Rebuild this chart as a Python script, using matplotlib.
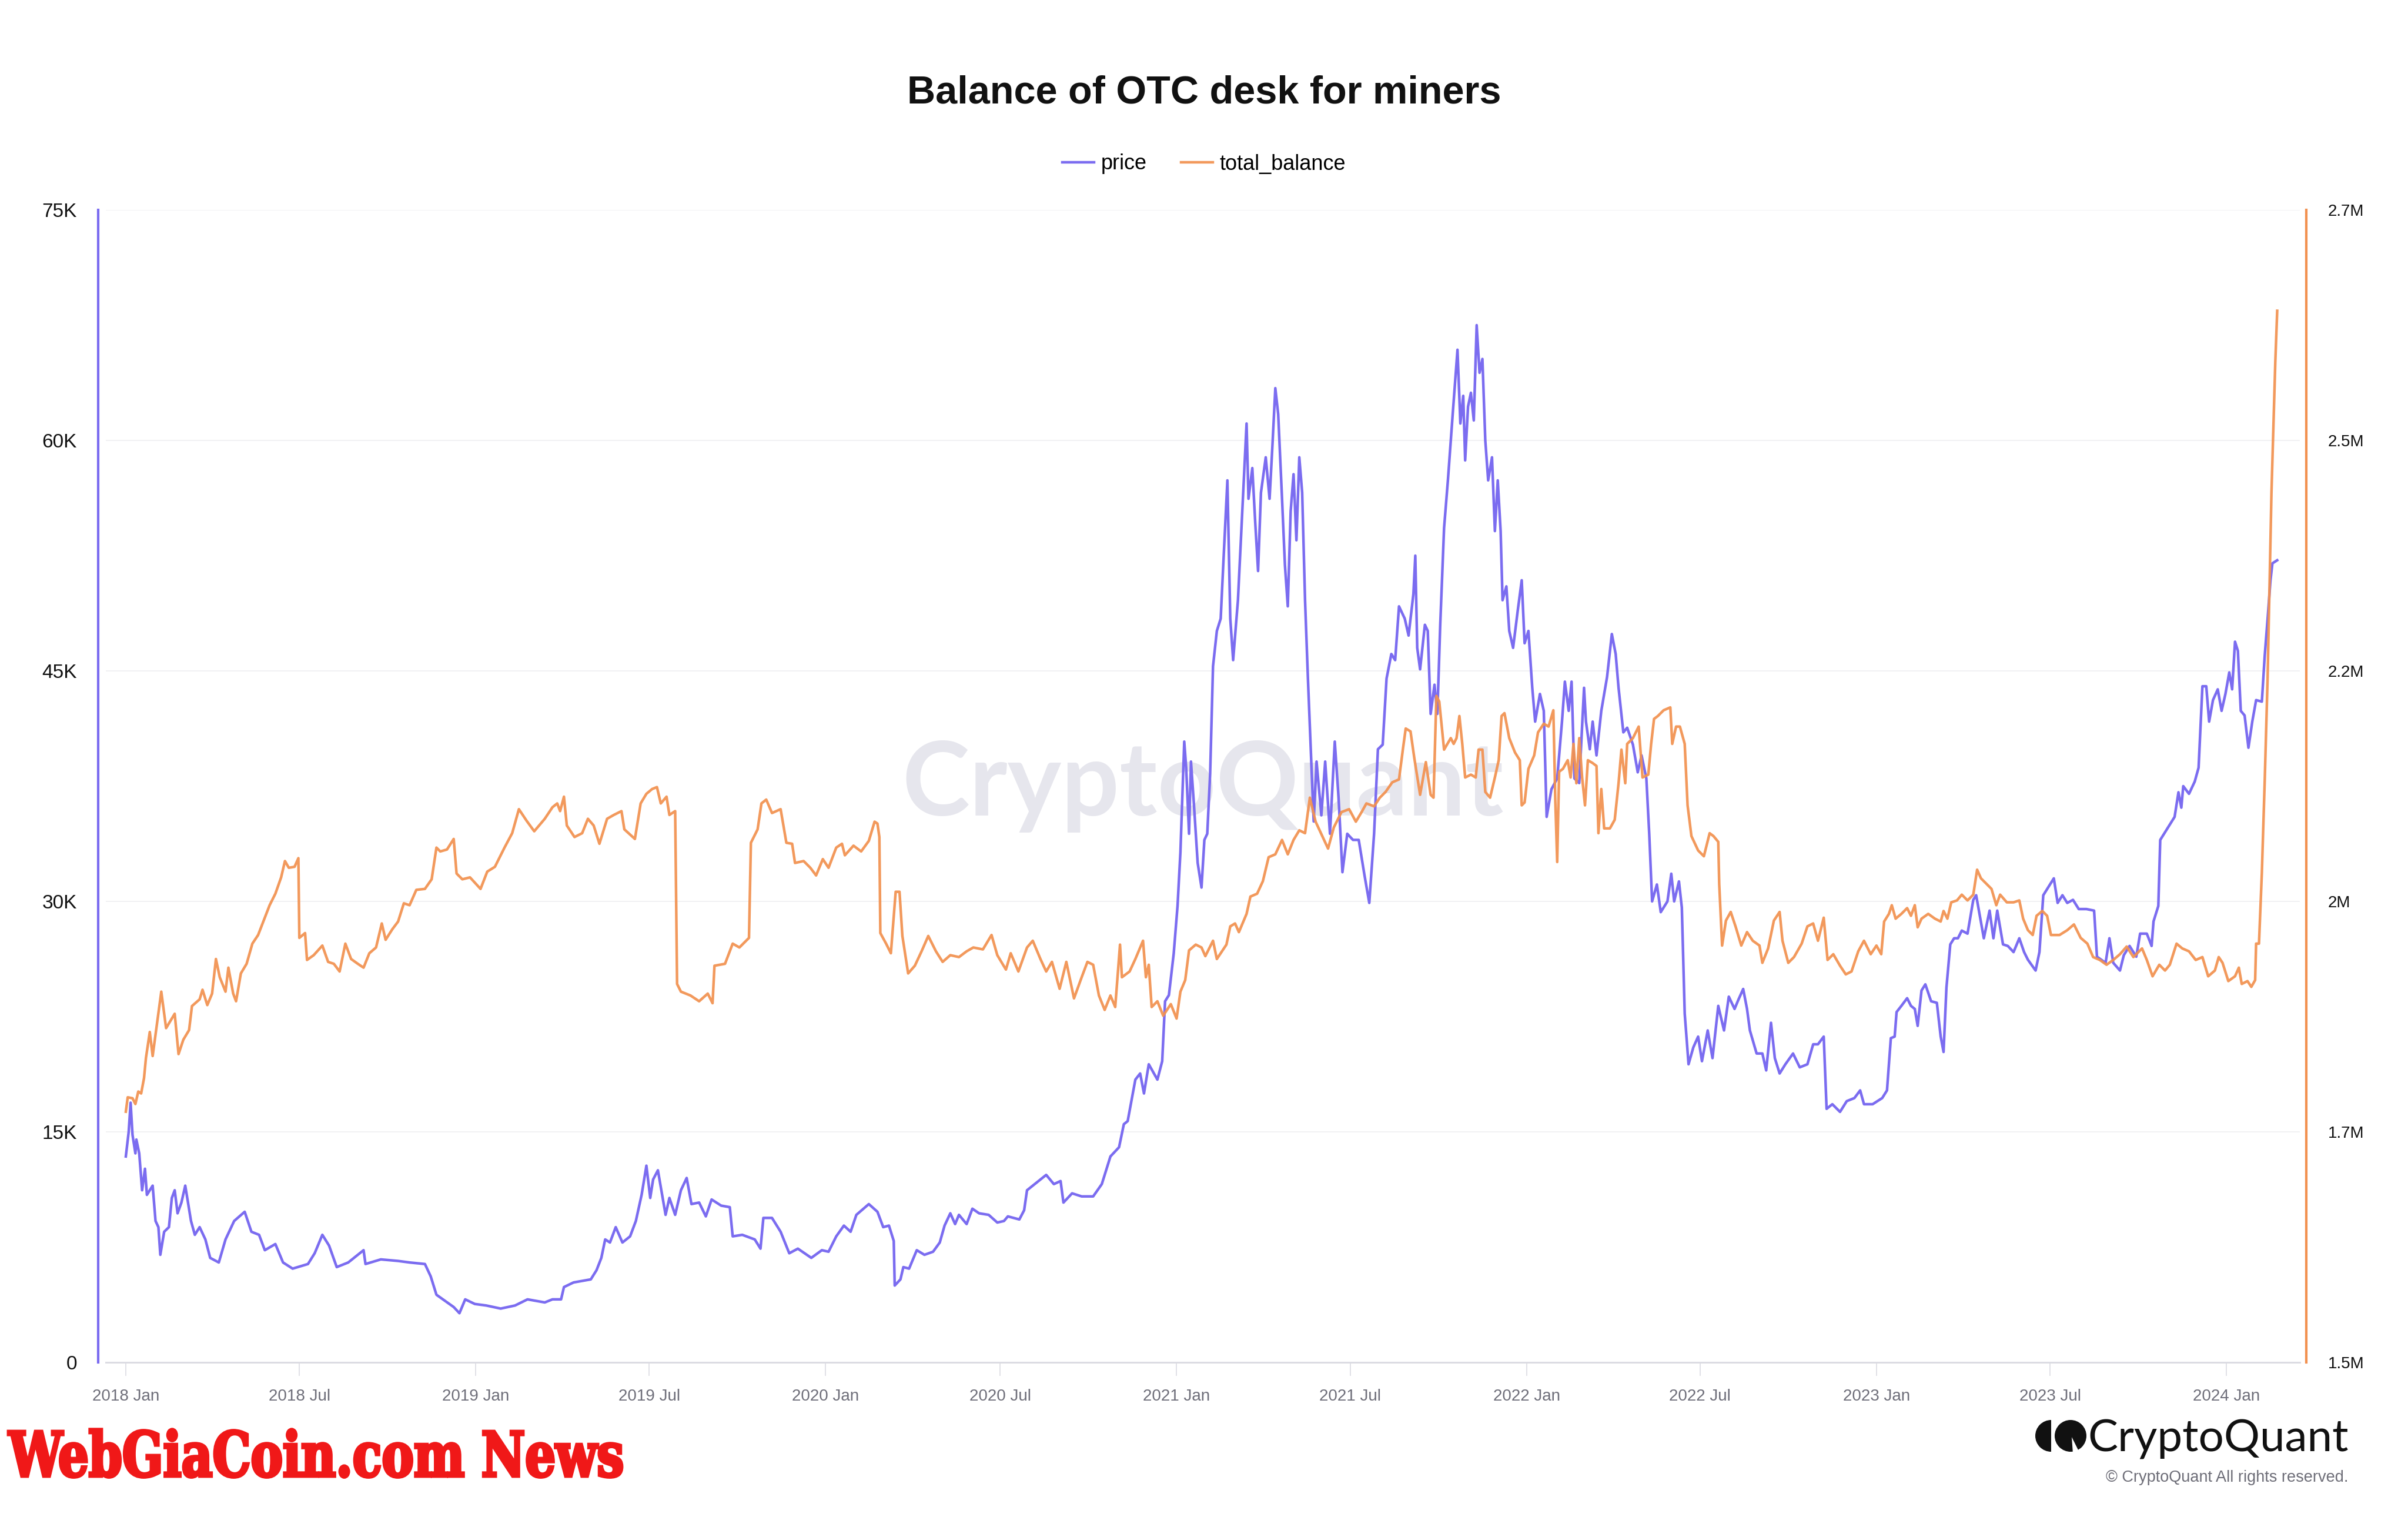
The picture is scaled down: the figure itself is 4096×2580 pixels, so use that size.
import numpy as np
import pandas as pd
import matplotlib
matplotlib.use("Agg")
import matplotlib.pyplot as plt
import matplotlib.dates as mdates
from matplotlib.ticker import FuncFormatter
from matplotlib.textpath import TextPath
from matplotlib.patches import PathPatch, Wedge, Circle, Polygon
from matplotlib.font_manager import FontProperties
from matplotlib.transforms import Affine2D

plt.rcParams['font.family'] = ['Liberation Sans', 'DejaVu Sans']

start = pd.Timestamp("2018-01-01")

# price: days since 2018-01-01, value in thousands USD
price_day = [0, 3, 5, 7, 10, 11, 14, 17, 20, 22, 28, 31, 34, 36, 40, 45, 48, 51, 54, 58,
             62, 68, 72, 77, 83, 88, 97, 104, 113, 124, 131, 139, 145, 156, 164, 174, 190, 197, 205, 212,
             220, 232, 248, 250, 266, 284, 296, 312, 318, 324, 333, 342, 348, 354, 364, 376, 391, 406, 419, 437,
             445, 454, 457, 467, 476, 485, 491, 496, 500, 505, 511, 518, 526, 532, 538, 543, 547, 550, 555, 563,
             567, 573, 579, 585, 590, 598, 605, 611, 621, 630, 633, 643, 656, 662, 665, 674, 683, 692, 701, 715,
             726, 733, 741, 749, 756, 762, 775, 784, 790, 796, 801, 802, 808, 811, 817, 825, 833, 842, 849, 854,
             860, 865, 869, 877, 883, 890, 900, 909, 916, 920, 932, 937, 940, 948, 960, 968, 975, 978, 987, 997,
             1009, 1018, 1024, 1027, 1036, 1041, 1045, 1053, 1058, 1062, 1067, 1076, 1081, 1084, 1088, 1093, 1097, 1100, 1104, 1106,
             1109, 1111, 1114, 1118, 1122, 1125, 1128, 1131, 1134, 1138, 1142, 1145, 1149, 1152, 1155, 1160, 1164, 1169, 1171, 1175,
             1178, 1181, 1184, 1189, 1193, 1196, 1199, 1202, 1206, 1209, 1212, 1215, 1218, 1221, 1224, 1227, 1230, 1233, 1236, 1239,
             1242, 1247, 1251, 1256, 1261, 1265, 1269, 1274, 1280, 1286, 1292, 1297, 1302, 1306, 1311, 1315, 1320, 1324, 1328, 1334,
             1338, 1343, 1345, 1347, 1350, 1355, 1358, 1361, 1365, 1368, 1371, 1375, 1379, 1384, 1389, 1392, 1395, 1397, 1400, 1403,
             1406, 1409, 1412, 1415, 1418, 1421, 1425, 1428, 1431, 1434, 1436, 1440, 1443, 1447, 1452, 1456, 1459, 1463, 1467, 1470,
             1475, 1479, 1482, 1487, 1493, 1498, 1501, 1505, 1508, 1511, 1516, 1521, 1523, 1527, 1530, 1534, 1539, 1545, 1550, 1554,
             1557, 1562, 1566, 1572, 1577, 1581, 1586, 1589, 1592, 1597, 1601, 1608, 1612, 1615, 1620, 1623, 1626, 1630, 1635, 1640,
             1644, 1650, 1655, 1661, 1667, 1672, 1678, 1682, 1687, 1691, 1694, 1701, 1707, 1711, 1716, 1720, 1725, 1731, 1739, 1746,
             1754, 1760, 1765, 1771, 1774, 1780, 1788, 1795, 1803, 1809, 1813, 1822, 1832, 1837, 1841, 1845, 1847, 1852, 1858, 1862,
             1866, 1869, 1873, 1877, 1883, 1889, 1893, 1896, 1899, 1903, 1907, 1911, 1915, 1921, 1927, 1930, 1934, 1938, 1944, 1948,
             1952, 1958, 1963, 1969, 1975, 1980, 1984, 1992, 1996, 2000, 2006, 2011, 2015, 2020, 2025, 2031, 2037, 2045, 2053, 2056,
             2065, 2069, 2073, 2080, 2084, 2090, 2097, 2101, 2108, 2113, 2115, 2120, 2122, 2127, 2132, 2137, 2141, 2144, 2146, 2152,
             2158, 2162, 2166, 2170, 2173, 2177, 2182, 2186, 2190, 2194, 2197, 2200, 2203, 2206, 2210, 2214, 2218, 2222, 2228, 2231,
             2234, 2237, 2239, 2244]
price_k = [13.4, 15.0, 16.9, 14.8, 13.6, 14.5, 13.6, 11.2, 12.6, 10.9, 11.5, 9.2, 8.8, 7.0, 8.5, 8.8, 10.7, 11.2, 9.7, 10.4,
           11.5, 9.2, 8.3, 8.8, 8.0, 6.8, 6.5, 8.0, 9.2, 9.8, 8.5, 8.3, 7.3, 7.7, 6.5, 6.1, 6.4, 7.1, 8.3, 7.6,
           6.2, 6.5, 7.3, 6.4, 6.7, 6.6, 6.5, 6.4, 5.6, 4.4, 4.0, 3.6, 3.2, 4.1, 3.8, 3.7, 3.5, 3.7, 4.1, 3.9,
           4.1, 4.1, 4.9, 5.2, 5.3, 5.4, 6.0, 6.8, 8.0, 7.8, 8.8, 7.8, 8.2, 9.2, 10.9, 12.8, 10.7, 11.9, 12.5, 9.6,
           10.7, 9.6, 11.2, 12.0, 10.3, 10.4, 9.5, 10.6, 10.2, 10.1, 8.2, 8.3, 8.0, 7.4, 9.4, 9.4, 8.5, 7.1, 7.4, 6.8,
           7.3, 7.2, 8.2, 8.9, 8.5, 9.6, 10.3, 9.8, 8.8, 8.9, 7.9, 5.0, 5.4, 6.2, 6.1, 7.3, 7.0, 7.2, 7.8, 8.9,
           9.7, 9.0, 9.6, 9.0, 10.0, 9.7, 9.6, 9.1, 9.2, 9.5, 9.3, 9.9, 11.2, 11.6, 12.2, 11.6, 11.8, 10.4, 11.0, 10.8,
           10.8, 11.6, 12.8, 13.4, 14.0, 15.5, 15.7, 18.4, 18.8, 17.5, 19.4, 18.4, 19.6, 23.5, 23.9, 26.6, 29.7, 33.2, 40.4, 38.7,
           34.4, 39.1, 36.4, 32.5, 30.9, 34.0, 34.4, 38.3, 45.3, 47.6, 48.4, 52.3, 57.4, 48.4, 45.7, 49.6, 54.7, 61.1, 56.2, 58.2,
           54.7, 51.5, 56.6, 58.9, 56.2, 59.7, 63.4, 61.7, 56.2, 51.9, 49.2, 55.4, 57.8, 53.5, 58.9, 56.6, 49.6, 44.5, 39.9, 35.2,
           39.1, 35.6, 39.1, 34.4, 40.4, 36.7, 31.9, 34.4, 34.0, 34.0, 31.7, 29.9, 34.4, 39.9, 40.2, 44.5, 46.1, 45.7, 49.2, 48.4,
           47.3, 50.0, 52.5, 46.5, 45.1, 48.0, 47.6, 42.2, 44.1, 42.2, 48.0, 54.3, 57.4, 61.7, 65.9, 61.1, 62.9, 58.7, 62.2, 63.1,
           61.3, 67.5, 64.4, 65.3, 60.0, 57.4, 58.9, 54.1, 57.4, 54.1, 49.6, 50.5, 47.6, 46.5, 49.0, 50.9, 46.8, 47.6, 43.9, 41.7,
           43.5, 42.4, 35.5, 37.3, 38.0, 41.7, 44.3, 42.4, 44.3, 38.0, 37.7, 43.9, 41.7, 39.9, 41.7, 39.5, 42.4, 44.6, 47.4, 46.1,
           43.9, 41.0, 41.3, 40.2, 38.4, 39.5, 38.0, 34.4, 30.0, 31.1, 29.3, 30.0, 31.8, 30.0, 31.3, 29.6, 22.7, 19.4, 20.5, 21.2,
           19.6, 21.6, 19.8, 23.2, 21.6, 23.8, 23.0, 23.6, 24.3, 23.0, 21.6, 20.1, 20.1, 19.0, 22.1, 19.8, 18.8, 19.4, 20.1, 19.2,
           19.4, 20.7, 20.7, 21.2, 16.5, 16.8, 16.3, 17.0, 17.2, 17.7, 16.8, 16.8, 17.2, 17.7, 21.1, 21.2, 22.8, 23.2, 23.7, 23.2,
           23.0, 21.9, 24.2, 24.6, 23.5, 23.4, 21.2, 20.2, 24.4, 27.2, 27.6, 27.6, 28.1, 27.9, 30.1, 30.4, 29.0, 27.6, 29.4, 27.6,
           29.4, 27.2, 27.1, 26.7, 27.6, 26.7, 26.2, 25.5, 26.7, 30.4, 31.0, 31.5, 29.9, 30.4, 29.9, 30.1, 29.5, 29.5, 29.4, 26.4,
           26.0, 27.6, 26.0, 25.5, 26.5, 27.1, 26.4, 27.9, 27.9, 27.1, 28.7, 29.7, 34.0, 34.5, 35.0, 35.5, 37.1, 36.1, 37.5, 37.0,
           37.8, 38.7, 44.0, 44.0, 41.7, 43.1, 43.8, 42.4, 43.5, 44.9, 43.8, 46.9, 46.3, 42.4, 42.1, 40.0, 41.7, 43.1, 43.0, 46.0,
           48.4, 50.9, 52.0, 52.2]

# total_balance: days since 2018-01-01, value in millions BTC
bal_day = [0, 2, 7, 10, 13, 16, 19, 21, 25, 28, 32, 37, 42, 51, 55, 60, 66, 69, 77, 80,
           85, 90, 94, 98, 104, 107, 112, 115, 120, 126, 132, 138, 145, 150, 156, 162, 166, 170, 176, 180,
           181, 187, 189, 196, 205, 211, 217, 223, 229, 235, 242, 248, 254, 261, 267, 271, 278, 284, 290, 296,
           303, 312, 319, 324, 328, 335, 342, 345, 351, 359, 370, 377, 385, 395, 403, 410, 418, 426, 437, 445,
           450, 453, 457, 460, 468, 476, 482, 488, 494, 502, 509, 517, 520, 531, 537, 543, 549, 554, 558, 564,
           567, 573, 575, 579, 589, 598, 607, 612, 614, 625, 633, 640, 650, 652, 659, 663, 668, 674, 683, 689,
           695, 698, 707, 714, 720, 727, 733, 741, 747, 750, 759, 767, 775, 781, 784, 786, 787, 793, 798, 803,
           807, 810, 816, 823, 830, 837, 845, 852, 860, 869, 877, 884, 894, 903, 909, 918, 923, 931, 940, 946,
           954, 960, 966, 974, 981, 989, 997, 1003, 1009, 1015, 1021, 1027, 1032, 1037, 1039, 1047, 1053, 1061, 1064, 1067,
           1070, 1076, 1082, 1090, 1096, 1100, 1105, 1109, 1116, 1122, 1126, 1134, 1138, 1148, 1152, 1157, 1161, 1169, 1173, 1180,
           1186, 1192, 1199, 1206, 1212, 1218, 1224, 1230, 1235, 1241, 1248, 1254, 1260, 1268, 1276, 1283, 1289, 1294, 1302, 1308,
           1314, 1321, 1328, 1332, 1335, 1340, 1344, 1350, 1356, 1361, 1364, 1367, 1370, 1375, 1382, 1385, 1388, 1391, 1394, 1397,
           1403, 1408, 1411, 1415, 1418, 1423, 1428, 1432, 1435, 1438, 1443, 1449, 1454, 1456, 1459, 1463, 1469, 1473, 1479, 1484,
           1489, 1491, 1493, 1495, 1499, 1504, 1507, 1510, 1513, 1516, 1519, 1522, 1525, 1530, 1534, 1536, 1539, 1542, 1548, 1553,
           1557, 1560, 1564, 1566, 1572, 1578, 1582, 1588, 1591, 1594, 1598, 1604, 1611, 1613, 1617, 1621, 1626, 1629, 1633, 1640,
           1646, 1652, 1656, 1661, 1662, 1665, 1669, 1674, 1679, 1685, 1691, 1697, 1704, 1707, 1713, 1719, 1725, 1728, 1734, 1740,
           1748, 1754, 1760, 1765, 1771, 1775, 1781, 1788, 1794, 1800, 1807, 1813, 1820, 1826, 1831, 1834, 1839, 1842, 1846, 1852,
           1858, 1862, 1866, 1869, 1873, 1880, 1887, 1893, 1896, 1900, 1904, 1910, 1915, 1921, 1927, 1931, 1935, 1941, 1946, 1951,
           1955, 1962, 1969, 1975, 1979, 1984, 1989, 1993, 1999, 2004, 2008, 2017, 2025, 2032, 2039, 2046, 2052, 2059, 2066, 2073,
           2080, 2087, 2094, 2103, 2108, 2114, 2121, 2127, 2132, 2139, 2145, 2152, 2159, 2166, 2172, 2179, 2183, 2187, 2193, 2200,
           2204, 2207, 2213, 2217, 2221, 2222, 2225, 2228, 2231, 2234, 2238, 2242, 2244]
bal_m = [1.761, 1.776, 1.775, 1.769, 1.782, 1.780, 1.796, 1.817, 1.844, 1.819, 1.849, 1.886, 1.848, 1.863, 1.821, 1.836, 1.846, 1.871, 1.878, 1.888,
         1.872, 1.884, 1.920, 1.901, 1.886, 1.911, 1.884, 1.876, 1.905, 1.915, 1.936, 1.945, 1.963, 1.976, 1.988, 2.005, 2.022, 2.015, 2.016, 2.025,
         1.942, 1.947, 1.919, 1.924, 1.934, 1.917, 1.915, 1.907, 1.936, 1.920, 1.915, 1.911, 1.926, 1.932, 1.957, 1.940, 1.951, 1.959, 1.978, 1.976,
         1.992, 1.993, 2.003, 2.036, 2.032, 2.034, 2.045, 2.009, 2.003, 2.005, 1.993, 2.011, 2.016, 2.036, 2.051, 2.076, 2.064, 2.053, 2.066, 2.078,
         2.082, 2.074, 2.089, 2.059, 2.047, 2.051, 2.066, 2.059, 2.040, 2.066, 2.070, 2.074, 2.055, 2.045, 2.082, 2.092, 2.097, 2.099, 2.082, 2.089,
         2.070, 2.074, 1.894, 1.886, 1.882, 1.876, 1.884, 1.874, 1.913, 1.915, 1.936, 1.932, 1.942, 2.041, 2.055, 2.082, 2.086, 2.072, 2.076, 2.041,
         2.040, 2.020, 2.022, 2.015, 2.007, 2.024, 2.015, 2.036, 2.040, 2.028, 2.038, 2.032, 2.043, 2.063, 2.061, 2.047, 1.947, 1.936, 1.926, 1.990,
         1.990, 1.944, 1.905, 1.913, 1.928, 1.944, 1.928, 1.917, 1.924, 1.922, 1.928, 1.932, 1.930, 1.945, 1.924, 1.909, 1.926, 1.907, 1.932, 1.939,
         1.920, 1.907, 1.917, 1.889, 1.917, 1.879, 1.901, 1.917, 1.914, 1.882, 1.867, 1.882, 1.870, 1.935, 1.901, 1.907, 1.920, 1.939, 1.901, 1.914,
         1.870, 1.876, 1.861, 1.873, 1.858, 1.886, 1.898, 1.929, 1.935, 1.932, 1.923, 1.939, 1.920, 1.935, 1.954, 1.957, 1.948, 1.967, 1.985, 1.988,
         2.001, 2.026, 2.029, 2.044, 2.029, 2.044, 2.054, 2.051, 2.088, 2.063, 2.048, 2.035, 2.057, 2.073, 2.076, 2.063, 2.073, 2.082, 2.079, 2.088,
         2.094, 2.104, 2.107, 2.138, 2.160, 2.157, 2.129, 2.091, 2.125, 2.091, 2.088, 2.194, 2.188, 2.138, 2.150, 2.144, 2.150, 2.173, 2.144, 2.109,
         2.112, 2.109, 2.138, 2.138, 2.094, 2.088, 2.109, 2.127, 2.173, 2.176, 2.150, 2.135, 2.127, 2.080, 2.083, 2.118, 2.132, 2.156, 2.165, 2.162,
         2.179, 2.086, 2.021, 2.115, 2.118, 2.127, 2.109, 2.144, 2.103, 2.150, 2.109, 2.080, 2.127, 2.124, 2.121, 2.051, 2.097, 2.056, 2.056, 2.065,
         2.103, 2.138, 2.103, 2.144, 2.150, 2.162, 2.109, 2.112, 2.144, 2.170, 2.173, 2.179, 2.182, 2.144, 2.162, 2.162, 2.144, 2.080, 2.048, 2.033,
         2.027, 2.051, 2.048, 2.042, 1.998, 1.934, 1.960, 1.969, 1.954, 1.934, 1.948, 1.939, 1.934, 1.916, 1.931, 1.960, 1.969, 1.939, 1.916, 1.922,
         1.936, 1.954, 1.957, 1.939, 1.963, 1.919, 1.925, 1.913, 1.904, 1.907, 1.928, 1.939, 1.925, 1.934, 1.925, 1.959, 1.967, 1.976, 1.962, 1.967,
         1.973, 1.965, 1.976, 1.953, 1.962, 1.967, 1.962, 1.959, 1.970, 1.962, 1.979, 1.981, 1.987, 1.981, 1.987, 2.013, 2.004, 1.998, 1.993, 1.976,
         1.987, 1.979, 1.979, 1.981, 1.962, 1.950, 1.945, 1.965, 1.970, 1.965, 1.945, 1.945, 1.950, 1.956, 1.942, 1.936, 1.922, 1.919, 1.914, 1.919,
         1.925, 1.933, 1.922, 1.931, 1.919, 1.902, 1.914, 1.908, 1.914, 1.936, 1.931, 1.928, 1.919, 1.922, 1.902, 1.908, 1.922, 1.916, 1.897, 1.902,
         1.911, 1.894, 1.897, 1.891, 1.898, 1.936, 1.936, 2.010, 2.106, 2.213, 2.405, 2.541, 2.595]

left_ticks = [0, 15000, 30000, 45000, 60000, 75000]
right_ticks = [1.5e6, 1.74e6, 1.98e6, 2.22e6, 2.46e6, 2.7e6]

PURPLE = '#7b6cf0'
ORANGE = '#f29150'

price_dates = start + pd.to_timedelta(price_day, unit='D')
bal_dates = start + pd.to_timedelta(bal_day, unit='D')

W, H = 4096, 2580
fig = plt.figure(figsize=(W / 100, H / 100), dpi=100)
ax = fig.add_axes([180 / W, 1 - 2317 / H, 3732 / W, 1960 / H])

ax.text(0.5, 0.5, 'CryptoQuant', transform=ax.transAxes, ha='center', va='center',
        fontsize=125, family=['Lato', 'DejaVu Sans'], fontweight='bold', color='#e6e6ed', zorder=0)

l1, = ax.plot(price_dates, np.array(price_k) * 1000, color=PURPLE, lw=3.2, zorder=3)
ax2 = ax.twinx()
l2, = ax2.plot(bal_dates, np.array(bal_m) * 1e6, color=ORANGE, lw=3.2, alpha=0.93)

ax.set_ylim(0, 75000)
ax2.set_ylim(1.5e6, 2.7e6)
ax.set_xlim(start + pd.Timedelta(days=-20.85), start + pd.Timedelta(days=2267.6))

ax.set_yticks(left_ticks)
ax.yaxis.set_major_formatter(FuncFormatter(lambda v, p: '0' if v == 0 else f'{v / 1000:.0f}K'))
ax.tick_params(axis='y', length=0, pad=26, labelsize=24, labelcolor='#111111')
ax2.set_yticks(right_ticks)
ax2.yaxis.set_major_formatter(FuncFormatter(lambda v, p: f'{v / 1e6:.1f}'.rstrip('0').rstrip('.') + 'M'))
ax2.tick_params(axis='y', length=0, pad=26.5, labelsize=20, labelcolor='#111111')

ax.xaxis.set_major_locator(mdates.MonthLocator(bymonth=[1, 7]))
ax.xaxis.set_major_formatter(mdates.DateFormatter('%Y %b'))
ax.tick_params(axis='x', length=16.5, width=1.2, color='#dcdce3', pad=16, labelsize=20, labelcolor='#6f6f7a')

ax.yaxis.grid(True, color='#f1f1f3', lw=1.4)
ax.set_axisbelow(True)

for s in ['top', 'right']:
    ax.spines[s].set_visible(False)
for s in ['top', 'left', 'bottom']:
    ax2.spines[s].set_visible(False)
ax.spines['left'].set_position(('outward', 9.4))
ax.spines['left'].set_color(PURPLE)
ax.spines['left'].set_linewidth(3)
ax.spines['bottom'].set_color('#dcdce3')
ax.spines['bottom'].set_linewidth(2.2)
ax2.spines['right'].set_position(('outward', 8))
ax2.spines['right'].set_color(ORANGE)
ax2.spines['right'].set_linewidth(3)

fig.text(0.5, 1 - 159 / H, 'Balance of OTC desk for miners', ha='center', va='center',
         fontsize=48, fontweight='bold', color='#111111')
fig.legend([l1, l2], ['price', 'total_balance'], loc='center', bbox_to_anchor=(0.5, 1 - 279 / H),
           ncol=2, frameon=False, fontsize=26, handlelength=1.5, handletextpad=0.33, columnspacing=1.6)

# red site banner, bottom left
fp = FontProperties(family='DejaVu Serif', weight='bold', stretch='condensed')
tp = TextPath((0, 0), 'WebGiaCoin.com News', size=100, prop=fp)
bb = tp.get_extents()
sx = (1058 - 14) / bb.width
sy = 77 / 72.9
tr = Affine2D().translate(-bb.x0, 0).scale(sx, sy).translate(14, H - 2511)
fig.add_artist(PathPatch(tp, transform=tr, facecolor='#f01818', edgecolor='#f01818', lw=3.5))

# CryptoQuant logo, bottom right (pixel coords, y down)
lax = fig.add_axes([0, 0, 1, 1])
lax.set_xlim(0, W)
lax.set_ylim(H, 0)
lax.axis('off')
lax.add_patch(Wedge((3489, 2442), 27, 90, 270, color='#111111', lw=0))
lax.add_patch(Circle((3522, 2442), 27, color='#111111', lw=0))
lax.add_patch(Polygon([(3524, 2444), (3526, 2472), (3538, 2472)], closed=True, color='white', lw=0))
lax.text(3995, 2469, 'CryptoQuant', ha='right', va='baseline', fontsize=55,
         family=['Lato', 'DejaVu Sans'], fontweight='normal', color='#111111')
lax.text(3995, 2513, '\u00a9 CryptoQuant All rights reserved.', ha='right', va='center',
         fontsize=19.5, color='#6e6e78')

fig.savefig('out.png', dpi=100)
